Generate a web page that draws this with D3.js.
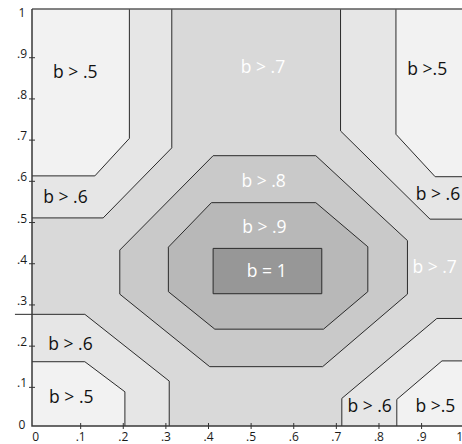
<!DOCTYPE html>
<html>
<head>
<meta charset="utf-8">
<script src="https://cdn.jsdelivr.net/npm/d3@7"></script>
<style>
  html, body { margin: 0; padding: 0; background: #ffffff; }
  svg { display: block; font-family: "Open Sans", "Noto Sans", "DejaVu Sans", sans-serif; }
</style>
</head>
<body>
<svg id="chart" width="462" height="444"></svg>
<script>
// Unit square of (x, y), padded a little so that ticks 0 and 1 sit just inside the frame
const xExtent = [-0.013, 0.996];
const yExtent = [0.005, 1.017];
const X0 = xExtent[0], X1 = xExtent[1], Y0 = yExtent[0], Y1 = yExtent[1];

const tickValues = [0, 0.1, 0.2, 0.3, 0.4, 0.5, 0.6, 0.7, 0.8, 0.9, 1];
const tickLabels = ["0", ".1", ".2", ".3", ".4", ".5", ".6", ".7", ".8", ".9", "1"];

// Contour levels of b, lightest to darkest
const levels = ["b > .5", "b > .6", "b > .7", "b > .8", "b > .9", "b = 1"];
const levelFills = ["#f2f2f2", "#e6e6e6", "#d9d9d9", "#c9c9c9", "#b8b8b8", "#979797"];
const levelText = ["#111111", "#111111", "#ffffff", "#ffffff", "#ffffff", "#ffffff"];

// Corner bands: open boundary polyline plus the frame corner it encloses
const cornerRegions = [
  { level: "b > .6", corner: [X0, Y1], boundary: [[0.315, Y1], [0.315, 0.680], [0.154, 0.510], [X0, 0.510]] },
  { level: "b > .5", corner: [X0, Y1], boundary: [[0.2155, Y1], [0.2155, 0.703], [0.1345, 0.612], [X0, 0.612]] },
  { level: "b > .6", corner: [X1, Y1], boundary: [[0.711, Y1], [0.711, 0.721], [0.921, 0.507], [X1, 0.507]] },
  { level: "b > .5", corner: [X1, Y1], boundary: [[0.841, Y1], [0.841, 0.713], [0.933, 0.610], [X1, 0.610]] },
  { level: "b > .6", corner: [X0, Y0], boundary: [[-0.053, 0.276], [0.111, 0.276], [0.309, 0.114], [0.309, Y0]] },
  { level: "b > .5", corner: [X0, Y0], boundary: [[X0, 0.161], [0.111, 0.161], [0.205, 0.088], [0.205, Y0]] },
  { level: "b > .6", corner: [X1, Y0], boundary: [[X1, 0.266], [0.937, 0.266], [0.714, 0.072], [0.714, Y0]] },
  { level: "b > .5", corner: [X1, Y0], boundary: [[X1, 0.163], [0.949, 0.163], [0.843, 0.0695], [0.843, Y0]] }
];

// Closed contours around the peak
const centreRegions = [
  { level: "b > .8", points: [[0.412, 0.661], [0.653, 0.661], [0.868, 0.455], [0.868, 0.325],
                              [0.669, 0.149], [0.404, 0.149], [0.193, 0.325], [0.193, 0.432]] },
  { level: "b > .9", points: [[0.408, 0.547], [0.653, 0.547], [0.775, 0.440], [0.775, 0.331],
                              [0.671, 0.240], [0.416, 0.240], [0.307, 0.331], [0.307, 0.439]] },
  { level: "b = 1",  points: [[0.412, 0.436], [0.667, 0.436], [0.667, 0.326], [0.412, 0.326]] }
];

// Region labels, anchored at (x, y) in data units
const labelText  = ["b > .5", "b > .7", "b >.5", "b > .6", "b > .6", "b > .7", "b > .8", "b > .9", "b = 1", "b > .6", "b > .5", "b > .6", "b >.5"];
const labelLevel = ["b > .5", "b > .7", "b > .5", "b > .6", "b > .6", "b > .7", "b > .8", "b > .9", "b = 1", "b > .6", "b > .5", "b > .6", "b > .5"];
const labelX     = [0.0886, 0.529, 0.9145, 0.0656, 0.9396, 0.9319, 0.5306, 0.5322, 0.5379, 0.0773, 0.0792, 0.7793, 0.9337];
const labelY     = [0.8495, 0.8617, 0.8568, 0.5454, 0.5535, 0.3763, 0.5857, 0.4741, 0.3673, 0.1894, 0.0601, 0.0397, 0.0397];

// ---- layout ----
const frame = { left: 32, right: 462, top: 9, bottom: 426 };

const x = d3.scaleLinear().domain(xExtent).range([frame.left, frame.right]);
const y = d3.scaleLinear().domain(yExtent).range([frame.bottom, frame.top]);
const fill = d3.scaleOrdinal(levels, levelFills);
const textFill = d3.scaleOrdinal(levels, levelText);

const svg = d3.select("#chart");
const line = d3.line().x(d => x(d[0])).y(d => y(d[1]));

svg.append("clipPath").attr("id", "plot-clip")
  .append("rect")
  .attr("x", frame.left).attr("y", frame.top)
  .attr("width", frame.right - frame.left).attr("height", frame.bottom - frame.top);

// Background level fills the whole square
const fills = svg.append("g").attr("clip-path", "url(#plot-clip)");
fills.append("rect")
  .attr("x", x(X0)).attr("y", y(Y1))
  .attr("width", x(X1) - x(X0)).attr("height", y(Y0) - y(Y1))
  .attr("fill", fill("b > .7"));

fills.selectAll("path.corner")
  .data(cornerRegions)
  .join("path")
  .attr("class", "corner")
  .attr("d", d => line([...d.boundary, d.corner]) + "Z")
  .attr("fill", d => fill(d.level));

// Boundary lines of the corner bands
svg.append("g").selectAll("path")
  .data(cornerRegions)
  .join("path")
  .attr("d", d => line(d.boundary))
  .attr("fill", "none")
  .attr("stroke", "#2b2b2b")
  .attr("stroke-width", 1);

svg.append("g").selectAll("path")
  .data(centreRegions)
  .join("path")
  .attr("d", d => line(d.points) + "Z")
  .attr("fill", d => fill(d.level))
  .attr("stroke", "#2b2b2b")
  .attr("stroke-width", 1);

// Frame: top edge, left and bottom axis lines
svg.append("line")
  .attr("x1", frame.left).attr("x2", frame.right)
  .attr("y1", frame.top).attr("y2", frame.top)
  .attr("stroke", "#5a5a5a").attr("stroke-width", 1.5);
svg.append("path")
  .attr("d", `M${frame.left},${frame.top}V${frame.bottom}H${frame.right}`)
  .attr("fill", "none").attr("stroke", "#3a3a3a").attr("stroke-width", 1.5);

// Axes
const fmt = (d, i) => tickLabels[i];
const tickFont = "\"Open Sans\", \"Noto Sans\", sans-serif";

const gx = svg.append("g")
  .attr("transform", `translate(0,${frame.bottom})`)
  .call(d3.axisBottom(x).tickValues(tickValues).tickFormat(fmt).tickSize(3));
gx.select(".domain").remove();
gx.selectAll(".tick line")
  .attr("y1", -3).attr("y2", 3)
  .attr("stroke", "#333")
  .attr("display", d => (d === 0 || d === 1) ? "none" : null);
gx.selectAll(".tick text")
  .attr("y", 15).attr("dy", 0)
  .attr("text-anchor", d => d === 0 ? "end" : d === 1 ? "end" : "middle")
  .attr("dx", d => d === 0 ? 1 : d === 1 ? -1 : 0)
  .attr("fill", "#1a1a1a")
  .style("font-size", "12px")
  .style("font-family", tickFont);

const gy = svg.append("g")
  .attr("transform", `translate(${frame.left},0)`)
  .call(d3.axisLeft(y).tickValues(tickValues).tickFormat(fmt).tickSize(3));
gy.select(".domain").remove();
gy.selectAll(".tick line")
  .attr("x1", -3).attr("x2", 3)
  .attr("stroke", "#333")
  .attr("display", d => (d === 0 || d === 1) ? "none" : null);
gy.selectAll(".tick text")
  .attr("x", -10).attr("dy", 0)
  .attr("text-anchor", "middle")
  .attr("fill", "#1a1a1a")
  .style("font-size", "12px")
  .style("font-family", tickFont);

// Region labels
svg.append("g").selectAll("text")
  .data(labelText)
  .join("text")
  .attr("x", (d, i) => x(labelX[i]))
  .attr("y", (d, i) => y(labelY[i]))
  .attr("text-anchor", "middle")
  .attr("fill", (d, i) => textFill(labelLevel[i]))
  .style("font-size", "17.5px")
  .text(d => d);
</script>
</body>
</html>
